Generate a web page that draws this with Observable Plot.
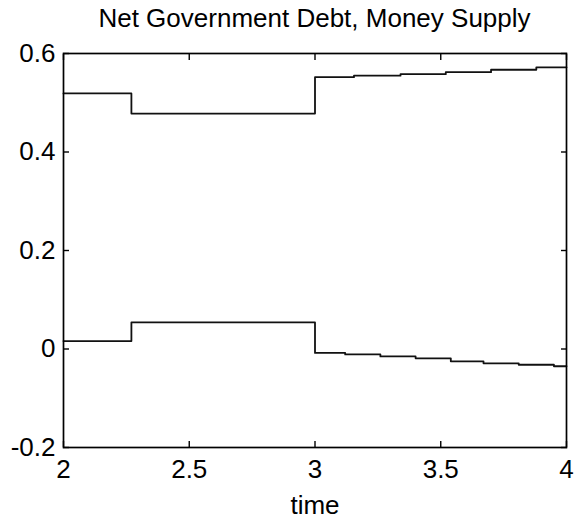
<!DOCTYPE html>
<html>
<head>
<meta charset="utf-8">
<script src="https://cdn.jsdelivr.net/npm/d3@7"></script>
<script src="https://cdn.jsdelivr.net/npm/@observablehq/plot@0.6"></script>
<style>
  html, body { margin: 0; padding: 0; background: #fff; }
  #title { width: 577px; height: 28px; box-sizing: border-box; padding-left: 52px; padding-top: 3px; text-align: center;
    font-family: "Liberation Sans", Arial, sans-serif; font-size: 26px; line-height: 30px; color: #000; overflow: visible; white-space: nowrap; }
</style>
</head>
<body>
<div id="title">Net Government Debt, Money Supply</div>
<div id="chart"></div>
<script>
// Upper series (step levels)
const upperTime  = [2, 2.27, 3.0, 3.155, 3.34, 3.52, 3.70, 3.88, 4];
const upperValue = [0.519, 0.478, 0.552, 0.555, 0.558, 0.562, 0.567, 0.572, 0.572];
// Lower series (step levels)
const lowerTime  = [2, 2.27, 3.0, 3.12, 3.26, 3.40, 3.54, 3.67, 3.81, 3.95, 4];
const lowerValue = [0.016, 0.054, -0.008, -0.011, -0.015, -0.019, -0.025, -0.029, -0.032, -0.035, -0.035];
// Ticks
const xTicks = [2, 2.5, 3, 3.5, 4];
const xTickLabels = ["2", "2.5", "3", "3.5", "4"];
const yTicks = [-0.2, 0, 0.2, 0.4, 0.6];
const yTickLabels = ["-0.2", "0", "0.2", "0.4", "0.6"];

const upper = upperTime.map((t, i) => ({t, v: upperValue[i]}));
const lower = lowerTime.map((t, i) => ({t, v: lowerValue[i]}));

const plot = Plot.plot({
  width: 577,
  height: 495,
  marginTop: 25,
  marginBottom: 76,
  marginLeft: 63,
  marginRight: 11,
  style: {fontFamily: "'Liberation Sans', Arial, sans-serif", fontSize: "26px", color: "#000", background: "transparent", overflow: "visible"},
  x: {domain: [2, 4]},
  y: {domain: [-0.2, 0.6]},
  marks: [
    Plot.line(upper, {x: "t", y: "v", curve: "step-after", stroke: "#111", strokeWidth: 1.8}),
    Plot.line(lower, {x: "t", y: "v", curve: "step-after", stroke: "#111", strokeWidth: 1.8}),
    // inward ticks on all four sides
    Plot.axisX(xTicks, {anchor: "bottom", tickSize: -6, text: null, label: null, strokeWidth: 1.4}),
    Plot.axisX(xTicks, {anchor: "top", tickSize: -6, text: null, label: null, strokeWidth: 1.4}),
    Plot.axisY(yTicks, {anchor: "left", tickSize: -6, text: null, label: null, strokeWidth: 1.4}),
    Plot.axisY(yTicks, {anchor: "right", tickSize: -6, text: null, label: null, strokeWidth: 1.4}),
    // labels
    Plot.axisX(xTicks, {anchor: "bottom", tickSize: 0, tickPadding: 12, tickFormat: (d, i) => xTickLabels[i],
      label: "time", labelAnchor: "center", labelArrow: "none", labelOffset: 66}),
    Plot.axisY(yTicks, {anchor: "left", tickSize: 0, tickPadding: 8, tickFormat: (d, i) => yTickLabels[i],
      label: null}),
    Plot.frame({stroke: "#000", strokeWidth: 1.7})
  ]
});
document.getElementById("chart").appendChild(plot);
</script>
</body>
</html>
